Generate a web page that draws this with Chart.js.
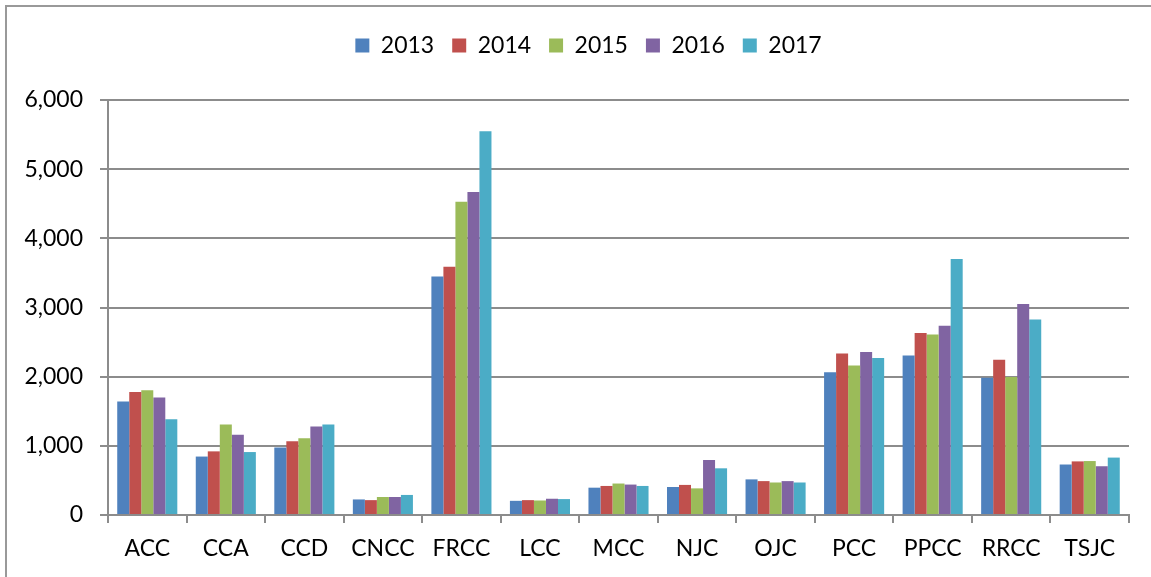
<!DOCTYPE html>
<html>
<head>
<meta charset="utf-8">
<script src="https://cdn.jsdelivr.net/npm/chart.js@4"></script>
<style>
  html, body { margin: 0; padding: 0; background: #fff; }
  canvas { display: block; }
</style>
</head>
<body>
<canvas id="grafico" width="1151" height="577"></canvas>
<script>
// Colegios (categorías del eje X)
const colegios = ['ACC', 'CCA', 'CCD', 'CNCC', 'FRCC', 'LCC', 'MCC', 'NJC', 'OJC', 'PCC', 'PPCC', 'RRCC', 'TSJC'];

// Valores por año
const valores2013 = [1640, 845, 975, 225, 3450, 205, 395, 405, 515, 2065, 2305, 1985, 730];
const valores2014 = [1780, 920, 1065, 215, 3590, 215, 420, 435, 490, 2335, 2630, 2245, 775];
const valores2015 = [1805, 1310, 1110, 260, 4530, 210, 455, 385, 470, 2160, 2610, 1995, 780];
const valores2016 = [1700, 1160, 1280, 260, 4670, 235, 440, 795, 490, 2355, 2735, 3050, 705];
const valores2017 = [1385, 910, 1310, 290, 5550, 230, 420, 675, 470, 2270, 3700, 2825, 830];

const anios = ['2013', '2014', '2015', '2016', '2017'];
const colores = ['#4F81BD', '#C0504D', '#9BBB59', '#8064A2', '#4BACC6'];

const gris = '#8c8c8c';

// Marco gris arriba y a la izquierda
const marco = {
    id: 'marco',
    beforeDraw(chart) {
        const c = chart.ctx;
        c.save();
        c.strokeStyle = '#999';
        c.lineWidth = 2;
        c.beginPath();
        c.moveTo(6, 577);
        c.lineTo(6, 6);
        c.lineTo(1151, 6);
        c.stroke();
        c.restore();
    }
};

// Altura fija para la leyenda y un pequeño desplazamiento a la derecha
const ajusteLeyenda = {
    id: 'ajusteLeyenda',
    beforeInit(chart) {
        const fitOriginal = chart.legend.fit;
        chart.legend.fit = function () {
            fitOriginal.bind(chart.legend)();
            this.height = 84;
        };
    },
    afterLayout(chart) {
        chart.legend.left += 48;
    }
};

Chart.defaults.font.family = 'Lato, "Open Sans", sans-serif';
Chart.defaults.color = '#000';

const series = [valores2013, valores2014, valores2015, valores2016, valores2017];

new Chart(document.getElementById('grafico'), {
    type: 'bar',
    data: {
        labels: colegios,
        datasets: anios.map((anio, i) => ({
            label: anio,
            data: series[i],
            backgroundColor: colores[i],
            borderWidth: 0,
            barPercentage: 1,
            categoryPercentage: 0.765
        }))
    },
    options: {
        responsive: false,
        animation: false,
        layout: {
            padding: { top: 16, right: 22, bottom: 0, left: 0 }
        },
        plugins: {
            legend: {
                position: 'top',
                labels: {
                    boxWidth: 14,
                    boxHeight: 14,
                    padding: 18,
                    font: { size: 23 }
                }
            },
            tooltip: { enabled: false }
        },
        scales: {
            x: {
                afterFit(scale) { scale.height = 62; },
                grid: {
                    display: true,
                    drawOnChartArea: false,
                    drawTicks: true,
                    tickLength: 8,
                    color: gris,
                    lineWidth: 2
                },
                border: { display: true, color: gris, width: 2 },
                ticks: {
                    padding: 12,
                    font: { size: 23 },
                    maxRotation: 0
                }
            },
            y: {
                min: 0,
                max: 6000,
                afterFit(scale) { scale.width = 108; },
                grid: {
                    color: gris,
                    lineWidth: 2,
                    tickLength: 8
                },
                border: { display: true, color: gris, width: 2 },
                ticks: {
                    stepSize: 1000,
                    padding: 17,
                    font: { size: 23 },
                    callback: v => v.toLocaleString('en-US')
                }
            }
        }
    },
    plugins: [marco, ajusteLeyenda]
});
</script>
</body>
</html>
